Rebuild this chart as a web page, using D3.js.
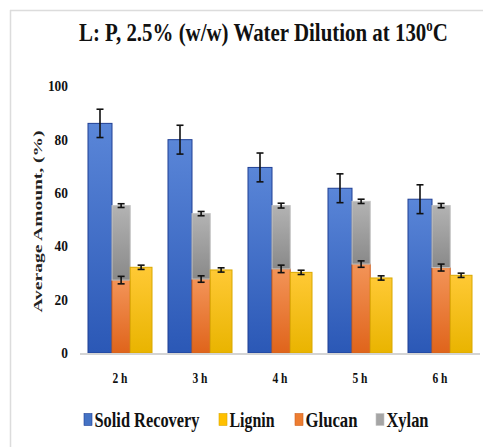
<!DOCTYPE html>
<html>
<head>
<meta charset="utf-8">
<script src="https://cdn.jsdelivr.net/npm/d3@7"></script>
<style>
  html, body { margin: 0; padding: 0; background: #fff; }
  svg { display: block; }
  svg text { font-family: 'Liberation Serif', 'Times New Roman', Times, 'DejaVu Serif', serif; }
</style>
</head>
<body>
<div id="chart"></div>
<script>
// Data
const categories = ['2 h', '3 h', '4 h', '5 h', '6 h'];
const solidRecovery = [86.0, 79.9, 69.5, 61.7, 57.6];
const solidRecoveryErr = [5.3, 5.4, 5.4, 5.4, 5.4];
const glucan = [27.3, 27.7, 31.5, 33.3, 32.0];
const glucanErr = [1.4, 1.2, 1.4, 1.2, 1.3];
const xylan = [27.9, 24.5, 23.7, 23.5, 23.2];
const xylanErr = [0.7, 0.8, 0.9, 0.8, 0.8];
const lignin = [32.1, 31.1, 30.2, 28.1, 29.1];
const ligninErr = [0.8, 0.8, 0.8, 0.8, 0.8];
const yTicks = [0, 20, 40, 60, 80, 100];
const legendItems = ['Solid Recovery', 'Lignin', 'Glucan', 'Xylan'];

const W = 483, H = 447;
const margin = { left: 80, right: 3, top: 86, bottom: 94 };

const svg = d3.select('#chart').append('svg')
  .attr('width', W).attr('height', H);

// gradients
const defs = svg.append('defs');
const grad = (id, top, bottom) => {
  const g = defs.append('linearGradient').attr('id', id)
    .attr('x1', 0).attr('y1', 0).attr('x2', 0).attr('y2', 1);
  g.append('stop').attr('offset', '0%').attr('stop-color', top);
  g.append('stop').attr('offset', '100%').attr('stop-color', bottom);
};
grad('g-blue', '#5a86d8', '#2b58b6');
grad('g-orange', '#f39458', '#df641b');
grad('g-gray', '#b3b3b3', '#898989');
grad('g-yellow', '#ffc935', '#e9b400');

const styles = {
  'Solid Recovery': { fill: 'url(#g-blue)', stroke: '#1f3f94', swatch: '#4472c4' },
  'Lignin': { fill: 'url(#g-yellow)', stroke: '#d9a800', swatch: '#ffc000' },
  'Glucan': { fill: 'url(#g-orange)', stroke: '#d0621f', swatch: '#ed7d31' },
  'Xylan': { fill: 'url(#g-gray)', stroke: '#c4c4c4', swatch: '#a5a5a5' }
};

// frame lines
svg.append('line').attr('x1', 10).attr('x2', W).attr('y1', 10.5).attr('y2', 10.5)
  .attr('stroke', '#dcdcdc').attr('stroke-width', 1.5);
svg.append('line').attr('x1', 10.5).attr('x2', 10.5).attr('y1', 10).attr('y2', H)
  .attr('stroke', '#dcdcdc').attr('stroke-width', 1.5);

const x = d3.scaleBand().domain(categories)
  .range([margin.left, W - margin.right]).paddingInner(0.2).paddingOuter(0.1);
// sub-bar edges inside a category band (blue | glucan+xylan | lignin)
const sub = d3.scaleLinear().domain([0, 1]).range([0, x.bandwidth()]);
const edges = [0, 0.375, 0.66, 1];
const y = d3.scaleLinear().domain([0, 100]).range([H - margin.bottom, margin.top]);

// title (source image is stretched vertically, so text is squeezed sideways)
const titleG = svg.append('g');
const title = titleG.append('text')
  .attr('font-weight', 'bold').attr('font-size', 26)
  .attr('fill', '#111');
title.append('tspan').text('L: P, 2.5% (w/w) Water Dilution at 130');
title.append('tspan').attr('font-size', 16).attr('dy', -10).text('o');
title.append('tspan').attr('dy', 10).text('C');
const natural = title.node().getBBox().width;
titleG.attr('transform', `translate(79,40.5) scale(${369 / natural},1)`);

// y axis
const yAxis = svg.append('g')
  .attr('transform', `translate(${margin.left},0)`)
  .call(d3.axisLeft(y).tickValues(yTicks).tickSize(0).tickPadding(12));
yAxis.select('.domain').remove();
yAxis.selectAll('text')
  .attr('font-family', null).attr('font-weight', 'bold').attr('font-size', 14.5)
  .attr('fill', '#111')
  .attr('textLength', d => String(d).length * 6.7).attr('lengthAdjust', 'spacingAndGlyphs');

svg.append('text')
  .attr('transform', 'translate(42,221.5) rotate(-90)')
  .attr('text-anchor', 'middle')
  .attr('font-weight', 'bold').attr('font-size', 13.5)
  .attr('fill', '#222')
  .attr('textLength', 182).attr('lengthAdjust', 'spacingAndGlyphs')
  .text('Average Amount, (%)');

// bars
const rows = categories.map((c, i) => ({
  c, sr: solidRecovery[i], srE: solidRecoveryErr[i],
  gl: glucan[i], glE: glucanErr[i],
  xy: xylan[i], xyE: xylanErr[i],
  li: lignin[i], liE: ligninErr[i]
}));

const groups = svg.append('g').selectAll('g').data(rows).join('g')
  .attr('transform', d => `translate(${x(d.c)},0)`);

const bar = (sel, name, k, y0, y1) => {
  sel.append('rect')
    .attr('x', sub(edges[k])).attr('width', sub(edges[k + 1]) - sub(edges[k]))
    .attr('y', y(y1)).attr('height', y(y0) - y(y1))
    .attr('fill', styles[name].fill)
    .attr('stroke', styles[name].stroke).attr('stroke-width', 1);
};
groups.each(function (d) {
  const g = d3.select(this);
  bar(g, 'Solid Recovery', 0, 0, d.sr);
  bar(g, 'Glucan', 1, 0, d.gl);
  bar(g, 'Xylan', 1, d.gl, d.gl + d.xy);
  bar(g, 'Lignin', 2, 0, d.li);
});

// error bars
const mid = k => (sub(edges[k]) + sub(edges[k + 1])) / 2;
const err = (sel, cx, v, e, cap) => {
  const g = sel.append('g').attr('stroke', '#111').attr('stroke-width', 1.6);
  g.append('line').attr('x1', cx).attr('x2', cx).attr('y1', y(v + e)).attr('y2', y(v - e));
  g.append('line').attr('x1', cx - cap).attr('x2', cx + cap).attr('y1', y(v + e)).attr('y2', y(v + e));
  g.append('line').attr('x1', cx - cap).attr('x2', cx + cap).attr('y1', y(v - e)).attr('y2', y(v - e));
};
groups.each(function (d) {
  const g = d3.select(this);
  err(g, mid(0), d.sr, d.srE, 3.5);
  err(g, mid(1), d.gl, d.glE, 3.5);
  err(g, mid(1), d.gl + d.xy, d.xyE, 3.5);
  err(g, mid(2), d.li, d.liE, 3.5);
});

// baseline
svg.append('line')
  .attr('x1', margin.left).attr('x2', W - margin.right)
  .attr('y1', y(0) + 1).attr('y2', y(0) + 1)
  .attr('stroke', '#d4d4d4').attr('stroke-width', 2);

// x labels
svg.append('g').selectAll('text').data(categories).join('text')
  .attr('x', d => x(d) + x.bandwidth() / 2).attr('y', 382.5)
  .attr('text-anchor', 'middle')
  .attr('font-weight', 'bold').attr('font-size', 14)
  .attr('fill', '#111')
  .attr('textLength', 15).attr('lengthAdjust', 'spacingAndGlyphs')
  .text(d => d);

// legend
const legendX = [84, 219, 295, 376];
const legendW = [105, 45, 52, 42];
const legend = svg.append('g').selectAll('g').data(legendItems).join('g')
  .attr('transform', (d, i) => `translate(${legendX[i]},413.5)`);
legend.append('rect').attr('width', 8).attr('height', 12)
  .attr('fill', d => styles[d].swatch).attr('stroke', d => styles[d].stroke).attr('stroke-width', 0.6);
legend.append('text')
  .attr('x', 10.5).attr('y', 13)
  .attr('font-weight', 'bold').attr('font-size', 22)
  .attr('fill', '#111')
  .attr('textLength', (d, i) => legendW[i]).attr('lengthAdjust', 'spacingAndGlyphs')
  .text(d => d);
</script>
</body>
</html>
